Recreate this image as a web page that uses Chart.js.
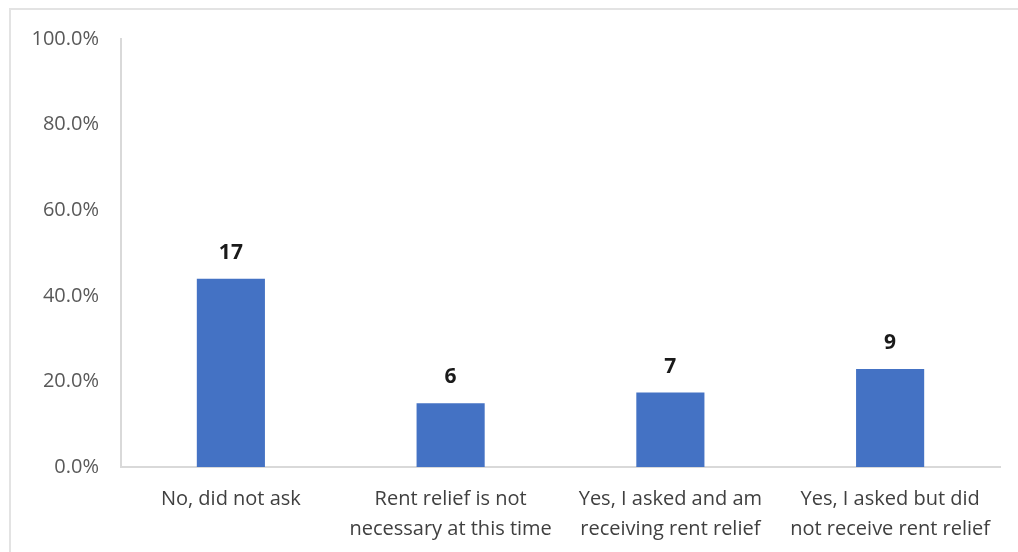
<!DOCTYPE html>
<html>
<head>
<meta charset="utf-8">
<script src="https://cdn.jsdelivr.net/npm/chart.js@4"></script>
<style>
  html, body { margin: 0; padding: 0; background: #fff; }
  #wrap { position: relative; width: 1018px; height: 552px; overflow: hidden; }
  #frame { position: absolute; left: 9px; top: 8px; width: 1040px; height: 580px; border: 2px solid #e3e3e3; box-sizing: border-box; }
  canvas { position: absolute; left: 0; top: 0; }
</style>
</head>
<body>
<div id="wrap">
  <div id="frame"></div>
  <canvas id="grafico" width="1018" height="552"></canvas>
</div>
<script>
const categorias = [
  ['No, did not ask'],
  ['Rent relief is not', 'necessary at this time'],
  ['Yes, I asked and am', 'receiving rent relief'],
  ['Yes, I asked but did', 'not receive rent relief']
];
const percentuais = [44.0, 14.9, 17.4, 22.9];
const contagens = [17, 6, 7, 9];
const ticksY = [0, 20, 40, 60, 80, 100];

const FONTE = '"Open Sans", "Noto Sans", sans-serif';

// rótulos com a contagem acima de cada barra
const rotulosContagem = {
  id: 'rotulosContagem',
  afterDatasetsDraw(chart) {
    const ctx = chart.ctx;
    const meta = chart.getDatasetMeta(0);
    ctx.save();
    ctx.font = 'bold 21px ' + FONTE;
    ctx.fillStyle = '#1a1a1a';
    ctx.textAlign = 'center';
    ctx.textBaseline = 'middle';
    meta.data.forEach((bar, i) => {
      ctx.fillText(String(contagens[i]), bar.x, bar.y - 26);
    });
    ctx.restore();
  }
};

new Chart(document.getElementById('grafico').getContext('2d'), {
  type: 'bar',
  data: {
    labels: categorias,
    datasets: [{
      data: percentuais,
      backgroundColor: '#4472C4',
      borderWidth: 0,
      barPercentage: 0.62,
      categoryPercentage: 0.5
    }]
  },
  options: {
    responsive: false,
    animation: false,
    layout: { padding: { top: 39, right: 18, bottom: 0, left: 0 } },
    plugins: {
      legend: { display: false },
      tooltip: { enabled: false }
    },
    scales: {
      x: {
        grid: { display: false },
        border: { display: true, color: '#d9d9d9', width: 2 },
        ticks: {
          color: '#404040',
          font: { family: FONTE, size: 20, lineHeight: 1.5 },
          padding: 9,
          maxRotation: 0,
          autoSkip: false
        },
        afterFit(scale) { scale.height = 85; }
      },
      y: {
        min: 0,
        max: 100,
        afterBuildTicks(scale) { scale.ticks = ticksY.map(v => ({ value: v })); },
        grid: { display: false },
        border: { display: true, color: '#d9d9d9', width: 2 },
        ticks: {
          color: '#595959',
          font: { family: FONTE, size: 20 },
          padding: 14,
          callback: v => v.toFixed(1) + '%'
        },
        afterFit(scale) { scale.width = 121; }
      }
    }
  },
  plugins: [rotulosContagem]
});
</script>
</body>
</html>
